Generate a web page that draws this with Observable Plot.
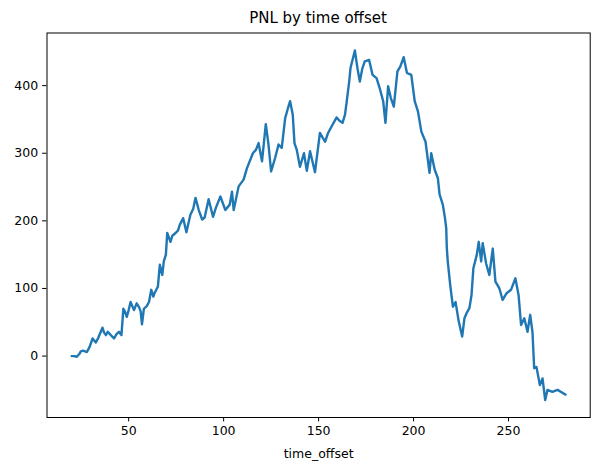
<!DOCTYPE html>
<html>
<head>
<meta charset="utf-8">
<script src="https://cdn.jsdelivr.net/npm/d3@7"></script>
<script src="https://cdn.jsdelivr.net/npm/@observablehq/plot@0.6"></script>
<style>
  body { margin: 0; background: #fff; }
  #chart { width: 598px; font-family: "DejaVu Sans", sans-serif; }
  #title { position: relative; height: 28px; }
  #title span { position: absolute; left: 318px; top: 11px; transform: translateX(-50%); font-size: 15px; line-height: 15px; white-space: nowrap; color: #000; }
</style>
</head>
<body>
<div id="chart">
  <div id="title"><span>PNL by time offset</span></div>
</div>
<script>
const timeOffset = [20,21.5,22.7,24,24.8,26,28,29.5,31,32.7,34,36.2,37,38,39,40.6,42.3,43.5,44.9,46.2,47.2,48,49,50,51,52.8,54.2,55.5,56.3,57,58,59.5,60.7,61.9,63,63.6,65.4,66.4,67.7,68.5,69.6,70.3,72,73,74.7,76,76.9,78.7,80.4,82.5,84,85.2,86.9,88.7,90,92.1,94.4,96,98.3,100.9,103.2,104.4,105.3,107.9,110.5,112.3,115.4,117,118.4,120.2,122.2,123.6,125,127.1,128.9,130.6,132.4,134,135,136.4,137.3,138.5,140.2,142.3,143.8,145.5,148.1,150.7,153.4,155,156.9,159.5,161,162.6,163.9,164.7,166.1,166.8,169.1,170.5,171.7,173,174.3,176.6,178.4,180.5,182.2,184,185.2,186.6,188,189.6,191.5,193,194.8,196.5,198.8,200.6,202.3,204.1,206.3,208.4,209.3,211.1,212.8,213.7,215.4,216.5,217.2,217.5,218,219.3,220.7,222.1,223.8,225.6,226.8,228,229.4,230.5,231.5,233.3,234.3,235.6,236.4,238.2,239.9,241.7,243.1,245.2,246.9,249,251.3,253.6,255.3,256.6,258.3,260,261.4,262.6,263.5,264.7,266.5,267.9,269.3,270.5,273.1,275.8,278.8,280];
const pnl = [0,0,-1,3,7,8,6,14,26,20,27,42,35,31,36,31,26,32,36,31,70,66,58,68,80,68,78,72,66,47,70,74,80,98,88,93,103,135,120,140,150,182,169,178,182,186,194,204,183,209,218,234,216,202,205,232,206,220,236,216,224,243,216,251,261,278,300,305,315,288,343,313,273,293,313,308,352,368,377,357,315,305,280,300,274,303,272,330,317,330,340,353,348,345,357,374,406,426,452,425,406,425,436,438,416,411,396,377,345,399,382,369,421,428,442,419,416,377,362,332,317,271,300,276,263,239,224,205,189,160,140,105,73,80,51,29,56,64,71,90,130,150,169,140,167,137,120,159,110,100,83,93,98,115,90,46,56,36,61,36,-18,-16,-43,-33,-65,-50,-53,-50,-55,-57];
const xTicks = [50, 100, 150, 200, 250];
const yTicks = [0, 100, 200, 300, 400];
const xLabel = "time_offset";

const data = timeOffset.map((t, i) => ({t, v: pnl[i]}));
function padded(arr) {
  const [lo, hi] = d3.extent(arr);
  const m = (hi - lo) * 0.05;
  return [lo - m, hi + m];
}

const chart = Plot.plot({
  width: 598,
  height: 442,
  marginTop: 4.5,
  marginBottom: 53,
  marginLeft: 46.5,
  marginRight: 8.3,
  style: { fontFamily: "DejaVu Sans, sans-serif", fontSize: "12.5px", color: "#000", background: "#fff", overflow: "visible" },
  x: { domain: padded(timeOffset) },
  y: { domain: padded(pnl) },
  marks: [
    Plot.line(data, { x: "t", y: "v", stroke: "#1f77b4", strokeWidth: 2.4, strokeLinejoin: "round" }),
    Plot.frame({ stroke: "#000", strokeWidth: 1 }),
    Plot.axisX({ ticks: xTicks, tickSize: 4.4, tickPadding: 4.4, fontSize: 12.5, label: xLabel, labelAnchor: "center", labelArrow: "none", labelOffset: 40, stroke: "#000" }),
    Plot.axisY({ ticks: yTicks, tickSize: 4.4, tickPadding: 4.4, fontSize: 12.5, label: null, stroke: "#000" })
  ]
});
document.getElementById("chart").appendChild(chart);
</script>
</body>
</html>
